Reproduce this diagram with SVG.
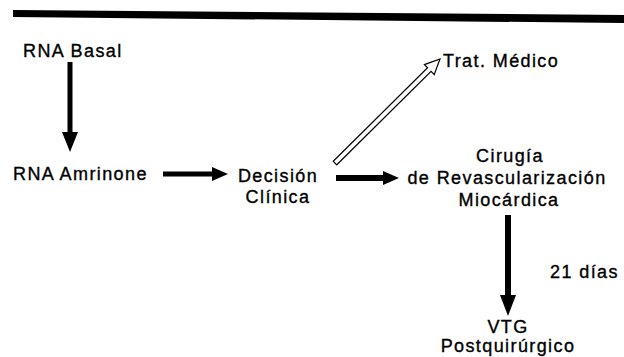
<svg xmlns="http://www.w3.org/2000/svg" width="624" height="357" viewBox="0 0 624 357">
<style>
text{font-family:"Liberation Sans",Arial,sans-serif;font-size:18px;letter-spacing:1.4px;fill:#000;stroke:#000;stroke-width:0.35}
.m{text-anchor:middle}
.solid{fill:#000}
.hollow{fill:#fff;stroke:#000;stroke-width:1.2;stroke-linejoin:miter}
</style>
<rect width="624" height="357" fill="#fff"/>
<polygon id="topbar" points="13,10 624,15 624,23 13,17" fill="#000"/>
<g id="connectors">
  <g id="c-basal-amrinone"><rect class="solid" x="67.5" y="62" width="5" height="71"/><polygon class="solid" points="62,132 78,132 70,152"/></g>
  <g id="c-amrinone-decision"><rect class="solid" x="163" y="171.5" width="50" height="5"/><polygon class="solid" points="212,167 212,181 228,174"/></g>
  <g id="c-decision-cirugia"><rect class="solid" x="336" y="175" width="48" height="6"/><polygon class="solid" points="383,171 383,185 399,178"/></g>
  <g id="c-cirugia-vtg"><rect class="solid" x="505" y="215" width="6" height="81"/><polygon class="solid" points="500,295 516,295 508,316"/></g>
  <polygon id="c-decision-trat" class="hollow" points="336.8,164.8 431.1,71.4 434.2,74.6 440,59 424.4,64.6 427.6,67.8 333.2,161.2"/>
</g>
<g id="n-basal"><text x="23" y="57">RNA Basal</text></g>
<g id="n-amrinone"><text x="13" y="180">RNA Amrinone</text></g>
<g id="n-decision"><text class="m" x="278" y="182">Decisión</text><text class="m" x="278" y="203">Clínica</text></g>
<g id="n-trat"><text x="443" y="67">Trat. Médico</text></g>
<g id="n-cirugia"><text class="m" x="510" y="162">Cirugía</text><text class="m" x="507" y="184">de Revascularización</text><text class="m" x="509" y="206">Miocárdica</text></g>
<g id="l-dias"><text x="550" y="278">21 días</text></g>
<g id="n-vtg"><text class="m" x="508" y="333">VTG</text><text class="m" x="508" y="352">Postquirúrgico</text></g>
</svg>
